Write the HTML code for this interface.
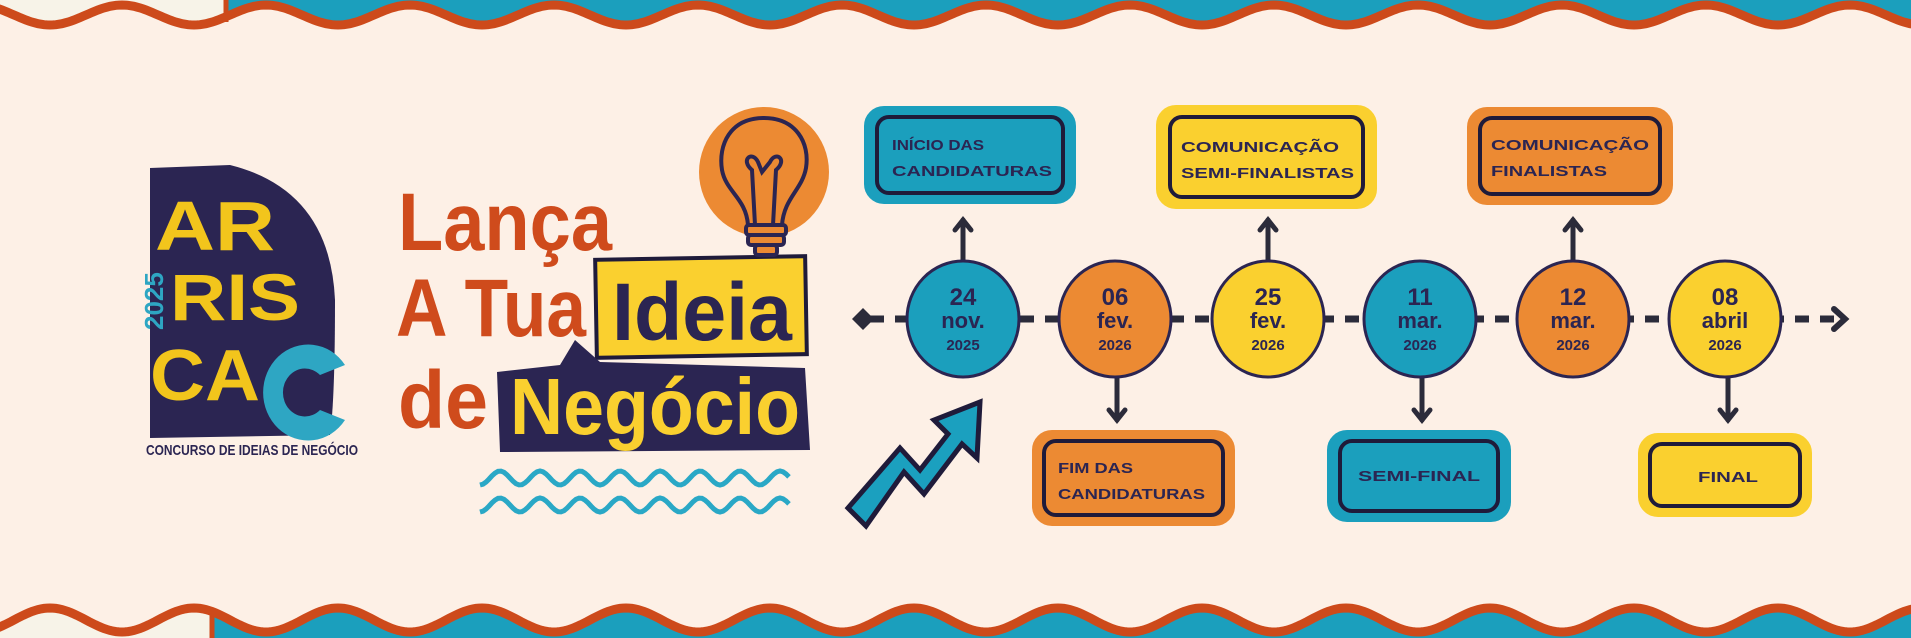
<!DOCTYPE html>
<html><head><meta charset="utf-8"><style>
html,body{margin:0;padding:0;background:#fdf0e6;}
svg{display:block}
text{font-family:"Liberation Sans",sans-serif;font-weight:bold}
</style></head><body>
<svg id="s" width="1911" height="638" viewBox="0 0 1911 638" xmlns="http://www.w3.org/2000/svg">
<rect width="1911" height="638" fill="#fdf0e6"/>
<path id="topfillL" fill="#f7f3e8"/>
<path id="topfillR" fill="#1b9fbd"/>
<path id="topwave" fill="none" stroke="#cd4a1b" stroke-width="9"/>
<path id="botfillL" fill="#f7f3e8"/>
<path id="botfillR" fill="#1b9fbd"/>
<path id="botwave" fill="none" stroke="#cd4a1b" stroke-width="9"/>
<line x1="226" y1="0" x2="226" y2="22" stroke="#cd4a1b" stroke-width="5"/>
<line x1="212" y1="612" x2="212" y2="638" stroke="#cd4a1b" stroke-width="5"/>

<path d="M150 168 L230 165 Q330 190 335 300 Q335 400 330 435 L150 438 Z" fill="#2b2552"/>
<text x="155" y="250" font-size="70" fill="#f2c51c" textLength="120" lengthAdjust="spacingAndGlyphs">AR</text>
<text x="170" y="320" font-size="66" fill="#f2c51c" textLength="130" lengthAdjust="spacingAndGlyphs">RIS</text>
<text x="150" y="400" font-size="72" fill="#f2c51c" textLength="110" lengthAdjust="spacingAndGlyphs">CA</text>
<path d="M345 365 A45 48 0 1 0 345 420 L320 410 A22 24 0 1 1 320 375 Z" fill="#2ea6c3"/>
<text x="0" y="0" font-size="26" fill="#2ea6c3" transform="translate(163,330) rotate(-90)">2025</text>
<text x="146" y="455" font-size="15" fill="#2b2552" textLength="212" lengthAdjust="spacingAndGlyphs">CONCURSO DE IDEIAS DE NEGÓCIO</text>

<text x="398" y="250" font-size="82" fill="#cf4b1c" textLength="214" lengthAdjust="spacingAndGlyphs">Lança</text>
<text x="396" y="336" font-size="82" fill="#cf4b1c" textLength="190" lengthAdjust="spacingAndGlyphs">A Tua</text>
<rect x="596" y="258" width="210" height="98" fill="#fad02f" stroke="#1f1b3a" stroke-width="4" transform="rotate(-1 700 307)"/>
<text x="612" y="340" font-size="82" fill="#2b2552" textLength="180" lengthAdjust="spacingAndGlyphs">Ideia</text>
<text x="398" y="428" font-size="82" fill="#cf4b1c" textLength="90" lengthAdjust="spacingAndGlyphs">de</text>
<path d="M497 372 L560 365 L575 340 L600 362 L805 368 L810 450 L500 452 Z" fill="#2b2552"/>
<text x="510" y="434" font-size="80" fill="#fad02f" textLength="290" lengthAdjust="spacingAndGlyphs">Negócio</text>
<path id="w1" fill="none" stroke="#2aa8c6" stroke-width="5"/>
<path id="w2" fill="none" stroke="#2aa8c6" stroke-width="5"/>

<circle cx="764" cy="172" r="65" fill="#ec8a33"/>
<path d="M764 118 C730 118 718 145 722 170 C726 192 746 198 748 225 L782 225 C784 198 802 190 806 168 C810 143 796 118 764 118 Z" fill="#ec8a33" stroke="#2b2552" stroke-width="4"/>
<path d="M755 225 L752 170 C740 160 752 150 758 162 L762 172 L770 162 C776 150 788 160 776 170 L773 225" fill="none" stroke="#2b2552" stroke-width="4"/>
<rect x="746" y="225" width="40" height="10" rx="3" fill="#ec8a33" stroke="#2b2552" stroke-width="4"/>
<rect x="748" y="235" width="36" height="10" rx="3" fill="#ec8a33" stroke="#2b2552" stroke-width="4"/>
<rect x="755" y="245" width="22" height="10" rx="3" fill="#ec8a33" stroke="#2b2552" stroke-width="4"/>

<path d="M848 508 L900 448 L920 470 L948 434 L934 420 L980 402 L977 458 L962 444 L924 494 L904 472 L866 526 Z" fill="#1ba0bf" stroke="#1f1b3a" stroke-width="5" stroke-linejoin="miter"/>

<line x1="870" y1="319" x2="1835" y2="319" stroke="#2b2b3a" stroke-width="7" stroke-dasharray="14 11"/>
<path d="M852 319 L863 308 L874 319 L863 330 Z" fill="#2b2b3a"/>
<path d="M1834 309 L1845 319 L1834 329" fill="none" stroke="#2b2b3a" stroke-width="6" stroke-linecap="round"/>

<g stroke="#2b2b3a" stroke-width="5" fill="none" stroke-linecap="round">
<line x1="963" y1="262" x2="963" y2="220"/><path d="M955 230 L963 220 L971 230"/>
<line x1="1268" y1="262" x2="1268" y2="220"/><path d="M1260 230 L1268 220 L1276 230"/>
<line x1="1573" y1="262" x2="1573" y2="220"/><path d="M1565 230 L1573 220 L1581 230"/>
<line x1="1117" y1="376" x2="1117" y2="420"/><path d="M1109 410 L1117 420 L1125 410"/>
<line x1="1422" y1="376" x2="1422" y2="420"/><path d="M1414 410 L1422 420 L1430 410"/>
<line x1="1728" y1="376" x2="1728" y2="420"/><path d="M1720 410 L1728 420 L1736 410"/>
</g>

<g stroke="#2b2552" stroke-width="3">
<ellipse cx="963" cy="319" rx="56" ry="58" fill="#1b9fbd"/>
<ellipse cx="1115" cy="319" rx="56" ry="58" fill="#ec8a33"/>
<ellipse cx="1268" cy="319" rx="56" ry="58" fill="#fad02f"/>
<ellipse cx="1420" cy="319" rx="56" ry="58" fill="#1b9fbd"/>
<ellipse cx="1573" cy="319" rx="56" ry="58" fill="#ec8a33"/>
<ellipse cx="1725" cy="319" rx="56" ry="58" fill="#fad02f"/>
</g>
<g fill="#2b2552" text-anchor="middle">
<text x="963" y="305" font-size="24">24</text><text x="963" y="328" font-size="22">nov.</text><text x="963" y="350" font-size="15">2025</text>
<text x="1115" y="305" font-size="24">06</text><text x="1115" y="328" font-size="22">fev.</text><text x="1115" y="350" font-size="15">2026</text>
<text x="1268" y="305" font-size="24">25</text><text x="1268" y="328" font-size="22">fev.</text><text x="1268" y="350" font-size="15">2026</text>
<text x="1420" y="305" font-size="24">11</text><text x="1420" y="328" font-size="22">mar.</text><text x="1420" y="350" font-size="15">2026</text>
<text x="1573" y="305" font-size="24">12</text><text x="1573" y="328" font-size="22">mar.</text><text x="1573" y="350" font-size="15">2026</text>
<text x="1725" y="305" font-size="24">08</text><text x="1725" y="328" font-size="22">abril</text><text x="1725" y="350" font-size="15">2026</text>
</g>

<g stroke-width="4">
<rect x="866" y="108" width="208" height="94" rx="18" fill="#1b9fbd" stroke="#1b9fbd"/>
<rect x="877" y="117" width="186" height="76" rx="12" fill="#1b9fbd" stroke="#1f1b3a"/>
<rect x="1158" y="107" width="217" height="100" rx="18" fill="#fad02f" stroke="#fad02f"/>
<rect x="1170" y="117" width="193" height="80" rx="12" fill="#fad02f" stroke="#1f1b3a"/>
<rect x="1469" y="109" width="202" height="94" rx="18" fill="#ec8a33" stroke="#ec8a33"/>
<rect x="1480" y="118" width="180" height="76" rx="12" fill="#ec8a33" stroke="#1f1b3a"/>
<rect x="1034" y="432" width="199" height="92" rx="18" fill="#ec8a33" stroke="#ec8a33"/>
<rect x="1044" y="441" width="179" height="74" rx="12" fill="#ec8a33" stroke="#1f1b3a"/>
<rect x="1329" y="432" width="180" height="88" rx="18" fill="#1b9fbd" stroke="#1b9fbd"/>
<rect x="1340" y="441" width="158" height="70" rx="12" fill="#1b9fbd" stroke="#1f1b3a"/>
<rect x="1640" y="435" width="170" height="80" rx="18" fill="#fad02f" stroke="#fad02f"/>
<rect x="1650" y="444" width="150" height="62" rx="12" fill="#fad02f" stroke="#1f1b3a"/>
</g>
<g fill="#2b2552" font-size="15">
<text x="892" y="150" textLength="92" lengthAdjust="spacingAndGlyphs">INÍCIO DAS</text>
<text x="892" y="176" textLength="160" lengthAdjust="spacingAndGlyphs">CANDIDATURAS</text>
<text x="1181" y="152" textLength="158" lengthAdjust="spacingAndGlyphs">COMUNICAÇÃO</text>
<text x="1181" y="178" textLength="173" lengthAdjust="spacingAndGlyphs">SEMI-FINALISTAS</text>
<text x="1491" y="150" textLength="158" lengthAdjust="spacingAndGlyphs">COMUNICAÇÃO</text>
<text x="1491" y="176" textLength="116" lengthAdjust="spacingAndGlyphs">FINALISTAS</text>
<text x="1058" y="473" textLength="75" lengthAdjust="spacingAndGlyphs">FIM DAS</text>
<text x="1058" y="499" textLength="147" lengthAdjust="spacingAndGlyphs">CANDIDATURAS</text>
<text x="1358" y="481" textLength="122" lengthAdjust="spacingAndGlyphs">SEMI-FINAL</text>
<text x="1698" y="482" textLength="60" lengthAdjust="spacingAndGlyphs">FINAL</text>
</g>
</svg>
<script>
function wave(x0,x1,cy,amp,per,phase){var d="",n=0;for(var x=x0;x<=x1;x+=3){var y=cy+amp*Math.cos(2*Math.PI*(x-phase)/per);d+=(n++?"L":"M")+x.toFixed(1)+" "+y.toFixed(1)+" ";}return d;}
var topw=wave(-10,1925,15,10,144,50);
document.getElementById('topwave').setAttribute('d',topw);
document.getElementById('topfillL').setAttribute('d',wave(-10,226,15,10,144,50)+"L226 0 L-10 0 Z");
document.getElementById('topfillR').setAttribute('d',wave(226,1925,15,10,144,50)+"L1925 0 L226 0 Z");
var bw=wave(-10,1925,620,-12,144,50);
document.getElementById('botwave').setAttribute('d',bw);
document.getElementById('botfillL').setAttribute('d',wave(-10,212,620,-12,144,50)+"L212 638 L-10 638 Z");
document.getElementById('botfillR').setAttribute('d',wave(212,1925,620,-12,144,50)+"L1925 638 L212 638 Z");
document.getElementById('w1').setAttribute('d',wave(480,790,478,7,40,480));
document.getElementById('w2').setAttribute('d',wave(480,790,505,7,40,480));
</script>
</body></html>
